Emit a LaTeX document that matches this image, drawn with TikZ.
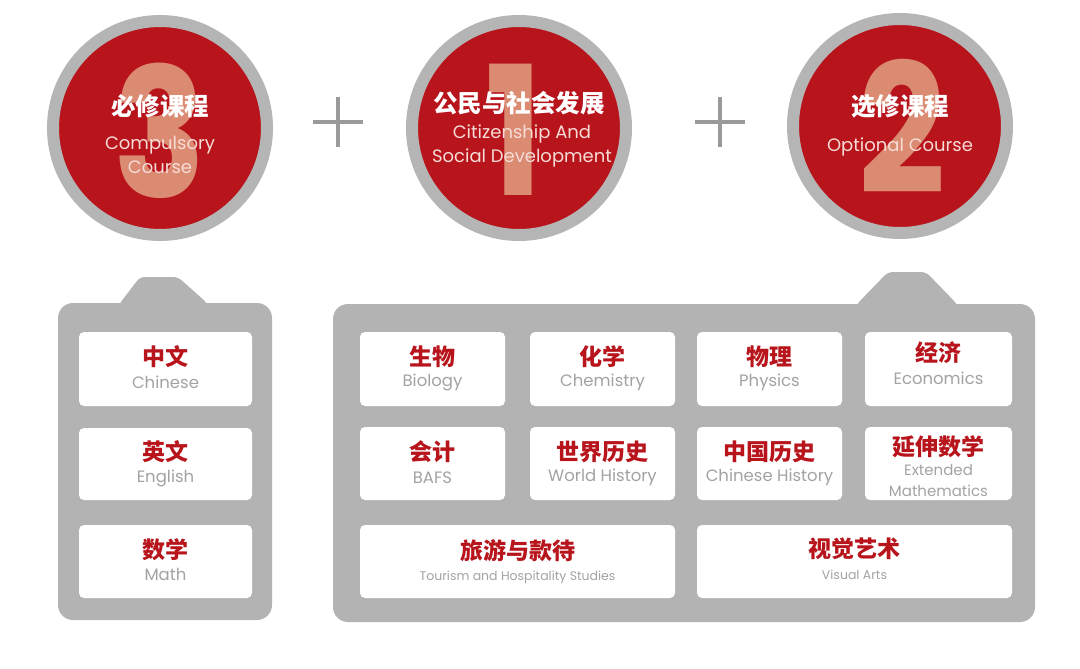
\documentclass[tikz,border=0pt]{standalone}
\usepackage{fontspec}
\newfontfamily\cjk{Noto Sans CJK SC}
\newfontfamily\pop{Poppins}
\usetikzlibrary{calc}
\definecolor{cred}{HTML}{B8141C}
\definecolor{ringgray}{HTML}{B5B5B5}
\definecolor{panelgray}{HTML}{B3B3B3}
\definecolor{plusgray}{HTML}{9A9A9A}
\definecolor{digitcol}{HTML}{DB8B72}
\definecolor{entxt}{HTML}{A3A3A3}
\definecolor{cirtxt}{HTML}{F6DCD6}
\begin{document}
\begin{tikzpicture}[x=1pt,y=-1pt,
  ring/.style={circle, draw=ringgray, line width=12pt, fill=cred, minimum size=214pt, inner sep=0pt},
  digit/.style={text=digitcol, inner sep=0pt, xscale=0.85, font=\pop\bfseries\fontsize{180}{180}\selectfont},
  ctitle/.style={text=white, inner sep=0pt, font=\cjk\bfseries\fontsize{24.5}{24.5}\selectfont},
  csub/.style={text=cirtxt, inner sep=0pt, align=center, font=\pop\fontsize{18}{24}\selectfont},
  card/.style={fill=white, rounded corners=5pt, inner sep=0pt},
  cn/.style={text=cred, inner sep=0pt, font=\cjk\bfseries\fontsize{23}{23}\selectfont},
  en/.style={text=entxt, inner sep=0pt, align=center, font=\pop\fontsize{16.5}{21}\selectfont},
  ensmall/.style={text=entxt, inner sep=0pt, font=\pop\fontsize{12.5}{14}\selectfont},
  plus/.style={draw=plusgray, line width=3.5pt},
  panel/.style={fill=panelgray}
]
\useasboundingbox (0,0) rectangle (1080,669);

% circles
\node[ring] (c3) at (160,128) {};
\node[ring] (c1) at (519,128) {};
\node[ring] (c2) at (900,126) {};
\node[digit] (d3) at (160,131) {3};
\node[digit] (d1) at (514,130) {1};
\node[digit] (d2) at (902,126) {2};

\node[ctitle] (t3) at (160,106) {必修课程};
\node[csub] (s3) at (160,155) {Compulsory\\Course};
\node[ctitle] (t1) at (519,103) {公民与社会发展};
\node[csub] (s1) at (522,146) {Citizenship And\\Social Development};
\node[ctitle] (t2) at (900,106) {选修课程};
\node[csub] (s2) at (900,147) {Optional Course};

% plus signs
\coordinate (p1) at (338,122);
\coordinate (p2) at (720,122);
\draw[plus] ($(p1)+(-25,0)$) -- ($(p1)+(25,0)$);
\draw[plus] ($(p1)+(0,-25)$) -- ($(p1)+(0,25)$);
\draw[plus] ($(p2)+(-25,0)$) -- ($(p2)+(25,0)$);
\draw[plus] ($(p2)+(0,-25)$) -- ($(p2)+(0,25)$);

% panels
\fill[panel, rounded corners=15pt] (58,303) rectangle (272,620);
\fill[panel, rounded corners=5pt] (116,312) -- (120,303) -- (140,277) -- (178,277) -- (207,303) -- (211,312) -- cycle;
\fill[panel, rounded corners=15pt] (333,304) rectangle (1035,622);
\fill[panel, rounded corners=5pt] (853,314) -- (857,304) -- (888,272) -- (926,272) -- (957,304) -- (961,314) -- cycle;

% left cards
\node[card, minimum width=173pt, minimum height=74pt] (chi) at (165.5,369) {};
\node[card, minimum width=173pt, minimum height=72pt] (eng) at (165.5,464) {};
\node[card, minimum width=173pt, minimum height=73pt] (mat) at (165.5,561.5) {};
\node[cn] at ($(chi.center)+(0,-12)$) {中文};
\node[en] at ($(chi.center)+(0,13)$) {Chinese};
\node[cn] at ($(eng.center)+(0,-12)$) {英文};
\node[en] at ($(eng.center)+(0,14)$) {English};
\node[cn] at ($(mat.center)+(0,-12)$) {数学};
\node[en] at ($(mat.center)+(0,13)$) {Math};

% right cards row 1
\node[card, minimum width=145pt, minimum height=74pt] (bio) at (432.5,369) {};
\node[card, minimum width=145pt, minimum height=74pt] (che) at (602.5,369) {};
\node[card, minimum width=145pt, minimum height=74pt] (phy) at (769.5,369) {};
\node[card, minimum width=147pt, minimum height=74pt] (eco) at (938.5,369) {};
\node[cn] at ($(bio.center)+(0,-12)$) {生物};
\node[en] at ($(bio.center)+(0,13)$) {Biology};
\node[cn] at ($(che.center)+(0,-12)$) {化学};
\node[en] at ($(che.center)+(0,13)$) {Chemistry};
\node[cn] at ($(phy.center)+(0,-12)$) {物理};
\node[en] at ($(phy.center)+(0,13)$) {Physics};
\node[cn] at ($(eco.center)+(0,-16)$) {经济};
\node[en] at ($(eco.center)+(0,9)$) {Economics};

% row 2
\node[card, minimum width=145pt, minimum height=73pt] (baf) at (432.5,463.5) {};
\node[card, minimum width=145pt, minimum height=73pt] (wor) at (602.5,463.5) {};
\node[card, minimum width=145pt, minimum height=73pt] (chh) at (769.5,463.5) {};
\node[card, minimum width=147pt, minimum height=73pt] (ext) at (938.5,463.5) {};
\node[cn] at ($(baf.center)+(0,-12)$) {会计};
\node[en] at ($(baf.center)+(0,14)$) {BAFS};
\node[cn] at ($(wor.center)+(0,-12)$) {世界历史};
\node[en] at ($(wor.center)+(0,14)$) {World History};
\node[cn] at ($(chh.center)+(0,-12)$) {中国历史};
\node[en] at ($(chh.center)+(0,14)$) {Chinese History};
\node[cn] at ($(ext.center)+(0,-17)$) {延伸数学};
\node[en, font=\pop\fontsize{15}{21}\selectfont] at ($(ext.center)+(0,17)$) {Extended\\Mathematics};

% row 3
\node[card, minimum width=315pt, minimum height=73pt] (tou) at (517.5,561.5) {};
\node[card, minimum width=315pt, minimum height=73pt] (vis) at (854.5,561.5) {};
\node[cn] at ($(tou.center)+(0,-11)$) {旅游与款待};
\node[ensmall] at ($(tou.center)+(0,16)$) {Tourism and Hospitality Studies};
\node[cn] at ($(vis.center)+(0,-13)$) {视觉艺术};
\node[ensmall] at ($(vis.center)+(0,13)$) {Visual Arts};
\end{tikzpicture}
\end{document}
